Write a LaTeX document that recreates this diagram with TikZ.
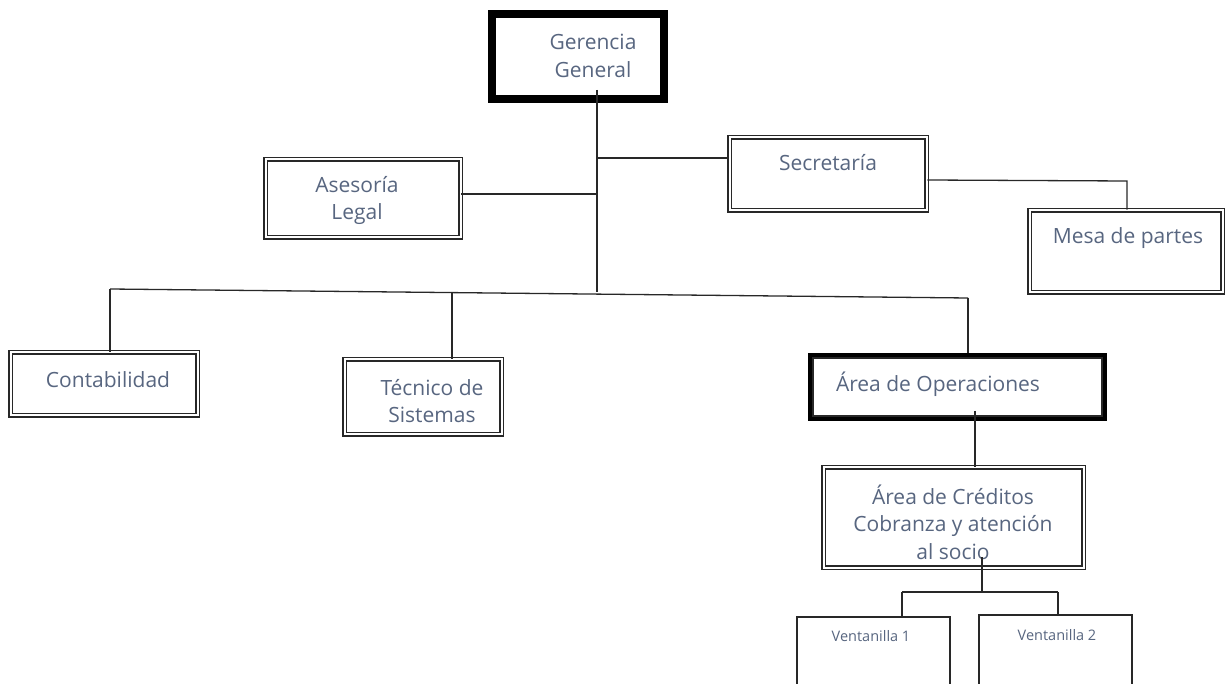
\documentclass[tikz,border=0pt]{standalone}
\usepackage{fontspec}
\setmainfont{Open Sans}
\usetikzlibrary{calc}
\definecolor{txt}{RGB}{88,102,128}
\definecolor{ln}{RGB}{40,40,40}
\begin{document}
\begin{tikzpicture}[x=1pt,y=-1pt,
  dbox/.style={draw=ln, line width=1.5pt, double, double distance=2pt, inner sep=0pt, fill=white},
  tbox/.style={draw=black, line width=8pt, inner sep=0pt, fill=white},
  obox/.style={draw=black, line width=6pt, inner sep=0pt, fill=white},
  sbox/.style={draw=ln, line width=1.5pt, inner sep=0pt},
  lbl/.style={text=txt, font=\fontsize{21}{27.5}\selectfont, align=center, inner sep=0pt},
  slbl/.style={text=txt, font=\fontsize{14.5}{18}\selectfont, inner sep=0pt},
  conn/.style={draw=ln, line width=1.3pt}
]
\useasboundingbox (0,0) rectangle (1227,684);
\fill[white] (0,0) rectangle (1227,684);

% coordinates
\coordinate (gtop) at (597,90);
\coordinate (t1) at (597,158);
\coordinate (t2) at (597,194);
\coordinate (hub) at (597,292);
\coordinate (bL) at (110,289);
\coordinate (bT) at (452,293);
\coordinate (bR) at (968,298);
\coordinate (m1) at (1127,181);
\coordinate (o1) at (975,411);
\coordinate (c1) at (982,557);
\coordinate (c2) at (982,592);
\coordinate (vL) at (902,592);
\coordinate (vR) at (1058,592);

\draw[conn] (bL) -- (bR);

% boxes
\node[tbox, minimum width=172pt, minimum height=85pt] (ger) at (578,56.5) {};
\node[dbox, minimum width=195pt, minimum height=78pt] (ase) at (363,198.5) {};
\node[dbox, minimum width=197pt, minimum height=73pt] (sec) at (828,174) {};
\node[dbox, minimum width=193pt, minimum height=82pt] (mesa) at (1126,251.5) {};
\node[dbox, minimum width=187pt, minimum height=63pt] (cont) at (104,384) {};
\node[dbox, minimum width=157pt, minimum height=75pt] (tec) at (423,397) {};
\node[obox, minimum width=293pt, minimum height=62pt] (ops) at (957.5,387) {};
\draw[draw=ln, line width=1.3pt] ($(ops.north west)+(5,5)$) rectangle ($(ops.south east)+(-5,-5)$);
\node[dbox, minimum width=260pt, minimum height=100pt] (cred) at (953.5,517.5) {};
\node[sbox, minimum width=153pt, minimum height=110pt] (v1) at (873.5,672) {};
\node[sbox, minimum width=153pt, minimum height=110pt] (v2) at (1055.5,670) {};

% labels
\node[lbl] (gerT) at (593,56) {Gerencia\\General};
\node[lbl] (aseT) at (357,200.5) {Asesoría\\Legal};
\node[lbl] (secT) at (828,163) {Secretaría};
\node[lbl] (mesaT) at (1128,238) {Mesa de partes};
\node[lbl] (contT) at (108,380) {Contabilidad};
\node[lbl] (tecT) at (432,401) {Técnico de\\Sistemas};
\node[lbl] (opsT) at (938,384) {Área de Operaciones};
\node[lbl] (credT) at (953,522) {Área de Créditos\\Cobranza y atención\\al socio};
\node[slbl] (v1T) at (871,636) {Ventanilla 1};
\node[slbl] (v2T) at (1057,635) {Ventanilla 2};

% connectors
\draw[conn] (gtop) -- (hub);
\draw[conn] (t1) -- (sec.west |- t1);
\draw[conn] (ase.east |- t2) -- (t2);
\draw[conn] (sec.east |- 0,180) -- (m1) -- (mesa.north -| m1);
\draw[conn] (bL) -- (cont.north -| bL);
\draw[conn] (bT) -- (tec.north -| bT);
\draw[conn] (bR) -- (ops.north -| bR);
\draw[conn] (o1) -- (cred.north -| o1);
\draw[conn] (c1) -- (c2);
\draw[conn] (vL) -- (vR);
\draw[conn] (vL) -- (v1.north -| vL);
\draw[conn] (vR) -- (v2.north -| vR);
\end{tikzpicture}
\end{document}
